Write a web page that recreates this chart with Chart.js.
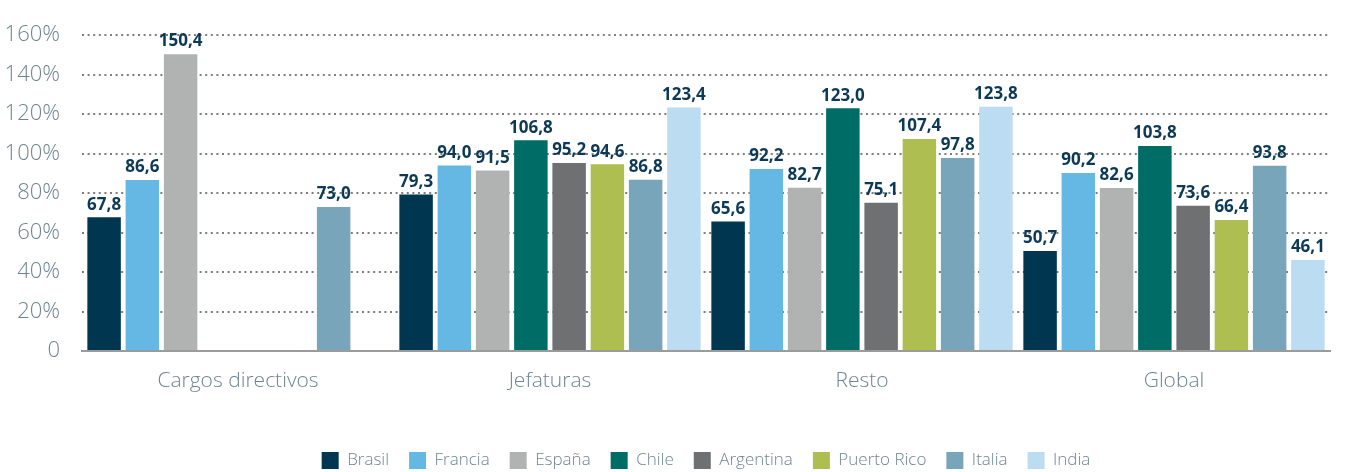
<!DOCTYPE html>
<html>
<head>
<meta charset="utf-8">
<script src="https://cdn.jsdelivr.net/npm/chart.js@4/dist/chart.umd.min.js"></script>
<style>
	html, body { margin: 0; padding: 0; background: #fff; overflow: hidden; }
	#wrap { width: 1347px; height: 472px; }
</style>
</head>
<body>
<div id="wrap"><canvas id="myChart" width="1347" height="472"></canvas></div>
<script>
var _labels = ['Cargos directivos', 'Jefaturas', 'Resto', 'Global'];
var _yTicks = [0, 20, 40, 60, 80, 100, 120, 140, 160];

var _countries = ['Brasil', 'Francia', 'España', 'Chile', 'Argentina', 'Puerto Rico', 'Italia', 'India'];
var _colors = ['#00364f', '#65b8e4', '#b1b3b2', '#006c66', '#6f7072', '#aebe50', '#79a5bb', '#bcdcf1'];

// one array per country, values per category (null = no bar)
var brasil     = [67.8, 79.3, 65.6, 50.7];
var francia    = [86.6, 94.0, 92.2, 90.2];
var espana     = [150.4, 91.5, 82.7, 82.6];
var chile      = [null, 106.8, 123.0, 103.8];
var argentina  = [null, 95.2, 75.1, 73.6];
var puertoRico = [null, 94.6, 107.4, 66.4];
var italia     = [73.0, 86.8, 97.8, 93.8];
var india      = [null, 123.4, 123.8, 46.1];

var _series = [brasil, francia, espana, chile, argentina, puertoRico, italia, india];

var _textColor = '#6e8590';
var _valueColor = '#0c3a56';
var _font = '"Open Sans", "Noto Sans", sans-serif';

function _fmt(v) {
	return v.toFixed(1).replace('.', ',');
}

function _setDatasets() {
	var datasets = new Array();
	_series.forEach(function(data, i) {
		datasets.push({
			label: _countries[i],
			data: data,
			backgroundColor: _colors[i],
			borderWidth: 0,
			categoryPercentage: 0.981,
			barPercentage: 0.875
		});
	});
	return datasets;
}

// value labels above each bar
var valueLabels = {
	id: 'valueLabels',
	afterDatasetsDraw: function(chart) {
		var ctx = chart.ctx;
		ctx.save();
		ctx.font = 'bold 17px ' + _font;
		ctx.fillStyle = _valueColor;
		ctx.textAlign = 'center';
		ctx.textBaseline = 'bottom';
		chart.data.datasets.forEach(function(ds, i) {
			var meta = chart.getDatasetMeta(i);
			meta.data.forEach(function(bar, j) {
				var v = ds.data[j];
				if (v === null || v === undefined) return;
				ctx.fillText(_fmt(v), bar.x, bar.y - 4);
			});
		});
		ctx.restore();
	}
};

var _config = {
	type: 'bar',
	data: {
		labels: _labels,
		datasets: _setDatasets()
	},
	options: {
		responsive: false,
		animation: false,
		layout: {
			padding: { top: 21, left: 0, right: 17, bottom: -7 }
		},
		plugins: {
			legend: {
				position: 'bottom',
				fullSize: false,
				labels: {
					boxWidth: 17,
					boxHeight: 17,
					padding: 20,
					color: _textColor,
					font: { family: _font, size: 17, weight: '300' }
				}
			},
			tooltip: { enabled: false }
		},
		scales: {
			x: {
				grid: { display: false, drawTicks: false },
				border: { display: true, color: '#9b9b9b', width: 2 },
				ticks: {
					padding: 17,
					color: _textColor,
					font: { family: _font, size: 21, weight: '300' }
				},
				afterFit: function(scale) { scale.height = 81; }
			},
			y: {
				min: 0,
				max: 160,
				afterBuildTicks: function(scale) {
					scale.ticks = _yTicks.map(function(v) { return { value: v }; });
				},
				grid: {
					drawTicks: false,
					color: function(c) { return c.tick && c.tick.value === 0 ? 'rgba(0,0,0,0)' : '#7d7d7d'; },
					lineWidth: 2
				},
				border: { display: false, dash: [2, 3.6] },
				ticks: {
					padding: 22,
					color: _textColor,
					font: { family: _font, size: 22, weight: '300' },
					callback: function(value) { return value === 0 ? '0' : value + '%'; }
				},
				afterFit: function(scale) { scale.width = 82; }
			}
		}
	},
	plugins: [valueLabels]
};

var myChart = new Chart(document.getElementById('myChart'), _config);
</script>
</body>
</html>
